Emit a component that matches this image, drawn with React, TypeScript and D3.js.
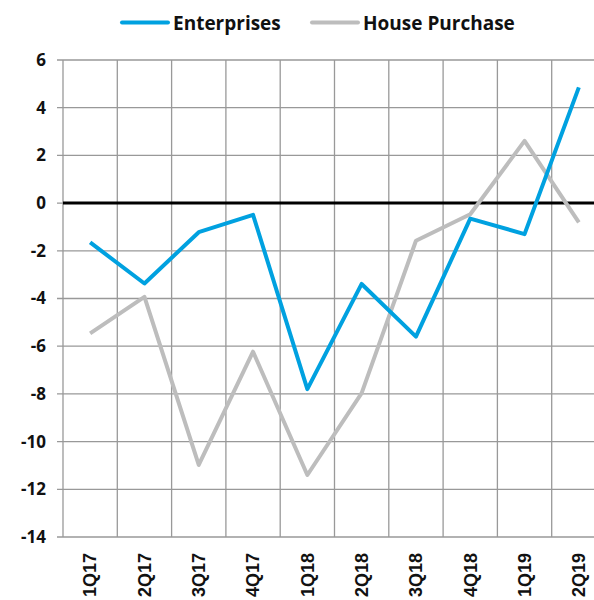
import * as d3 from 'd3';

const quarters = ['1Q17', '2Q17', '3Q17', '4Q17', '1Q18', '2Q18', '3Q18', '4Q18', '1Q19', '2Q19'];
const enterprises = [-1.65, -3.37, -1.22, -0.49, -7.8, -3.39, -5.6, -0.65, -1.3, 4.85];
const housePurchase = [-5.46, -3.93, -10.98, -6.23, -11.4, -7.97, -1.58, -0.47, 2.61, -0.81];
const yTicks = [6, 4, 2, 0, -2, -4, -6, -8, -10, -12, -14];

const seriesNames = ['Enterprises', 'House Purchase'];
const seriesColors = ['#00A1E0', '#BDBDBD'];

export default function App() {
    const width = 594;
    const height = 600;
    const margin = { top: 60, left: 63, bottom: 63 };

    const x = d3.scaleBand()
        .domain(quarters)
        .range([margin.left, margin.left + 54.3 * quarters.length]);
    const y = d3.scaleLinear()
        .domain([-14, 6])
        .range([height - margin.bottom, margin.top]);

    const line = d3.line<number>()
        .x((_, i) => (x(quarters[i]) || 0) + x.bandwidth() / 2)
        .y(d => y(d));

    const gridColor = '#999999';
    const axisFont = "'Open Sans', sans-serif";

    return (
        <svg width={width} height={height} style={{ position: 'absolute', left: 0, top: 0 }}>
            {/* legend */}
            {seriesNames.map((name, i) => {
                const lx = i === 0 ? 122 : 312;
                return (
                    <g key={name}>
                        <line x1={lx} x2={lx + 46} y1={22.5} y2={22.5} stroke={seriesColors[i]} strokeWidth={4} strokeLinecap="round" />
                        <text x={lx + 51} y={30} fontFamily={axisFont} fontWeight="bold" fontSize={19} fill="#111">{name}</text>
                    </g>
                );
            })}

            {/* horizontal grid + ticks */}
            {yTicks.map(t => (
                <g key={t}>
                    <line x1={margin.left - 6} x2={width} y1={y(t)} y2={y(t)} stroke={gridColor} strokeWidth={1.3} />
                    <text x={46} y={y(t)} dy="0.35em" textAnchor="end" fontFamily={axisFont} fontWeight="bold" fontSize={17} fill="#111">{t}</text>
                </g>
            ))}

            {/* vertical grid */}
            {quarters.map(q => (
                <line key={q} x1={x(q) || 0} x2={x(q) || 0} y1={y(6)} y2={y(-14)} stroke={gridColor} strokeWidth={1.3} />
            ))}

            {/* zero line */}
            <line x1={margin.left} x2={width} y1={y(0)} y2={y(0)} stroke="#000" strokeWidth={3} />

            {/* series */}
            <path d={line(housePurchase) || ''} fill="none" stroke={seriesColors[1]} strokeWidth={4} strokeLinejoin="round" />
            <path d={line(enterprises) || ''} fill="none" stroke={seriesColors[0]} strokeWidth={4} strokeLinejoin="round" />

            {/* x labels */}
            {quarters.map(q => {
                const cx = (x(q) || 0) + x.bandwidth() / 2;
                return (
                    <text key={q} transform={`translate(${cx},${y(-14) + 16}) rotate(-90)`} dy="0.35em" textAnchor="end"
                        fontFamily="'Liberation Sans', Arial, sans-serif" fontWeight="bold" fontSize={18} fill="#111">{q}</text>
                );
            })}
        </svg>
    );
}
